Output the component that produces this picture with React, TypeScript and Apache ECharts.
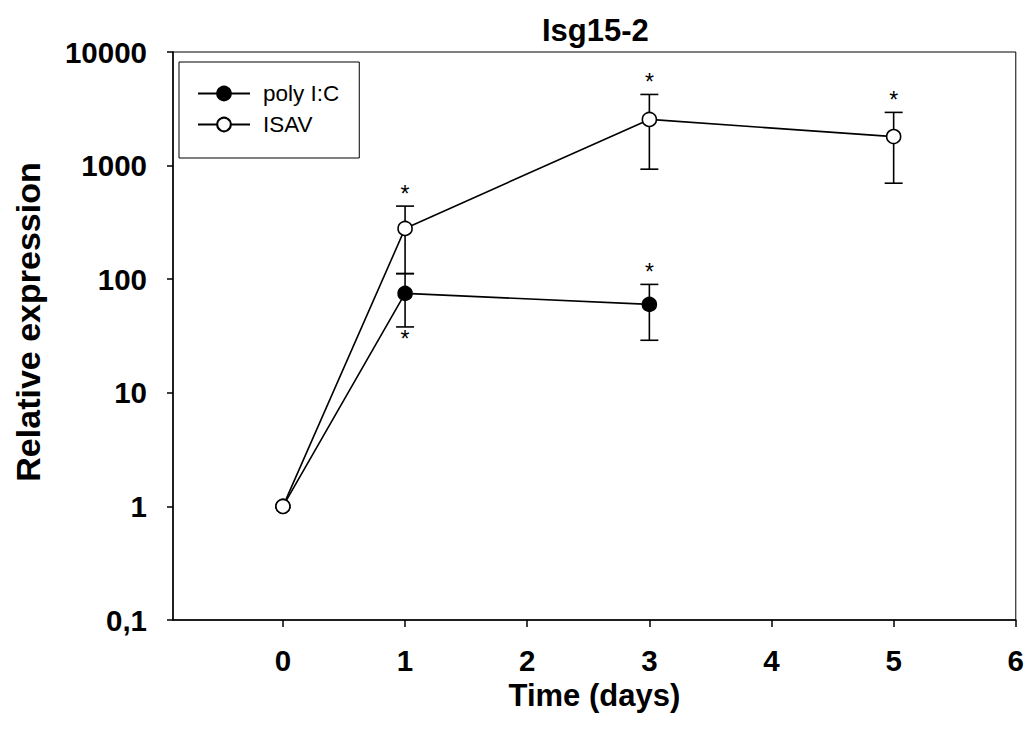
import React, { useEffect, useRef } from 'react';
import * as echarts from 'echarts';

// ---- data ----
const xTicks = [0, 1, 2, 3, 4, 5, 6];

const polyDays = [0, 1, 3];
const polyMean = [1, 75, 60];
const polyUpper: (number | null)[] = [null, 112, 90];
const polyLower: (number | null)[] = [null, 38, 29];
const polySig = ['', 'below', 'above'];

const isavDays = [0, 1, 3, 5];
const isavMean = [1, 280, 2550, 1800];
const isavUpper: (number | null)[] = [null, 440, 4230, 2940];
const isavLower: (number | null)[] = [null, 112, 930, 700];
const isavSig = ['', 'above', 'above', 'above'];

const FONT = "'Liberation Sans', Arial, sans-serif";

function errorItems(days: number[], mean: number[], lo: (number | null)[], hi: (number | null)[], sig: string[]) {
  const items: number[][] = [];
  const sigs: string[] = [];
  days.forEach((d, i) => {
    if (lo[i] != null && hi[i] != null) {
      items.push([d, mean[i], lo[i] as number, hi[i] as number]);
      sigs.push(sig[i]);
    }
  });
  return { items, sigs };
}

function errorSeries(name: string, days: number[], mean: number[], lo: (number | null)[], hi: (number | null)[], sig: string[]) {
  const { items, sigs } = errorItems(days, mean, lo, hi, sig);
  return {
    type: 'custom',
    name: name + ' err',
    z: 1,
    silent: true,
    encode: { x: 0, y: 1 },
    data: items,
    renderItem: (params: any, api: any) => {
      const x = api.value(0);
      const l = api.value(2);
      const h = api.value(3);
      const top = api.coord([x, h]);
      const bot = api.coord([x, l]);
      const cap = 9;
      const st = { stroke: '#000', lineWidth: 1.6 };
      const children: any[] = [
        { type: 'line', shape: { x1: top[0], y1: top[1], x2: bot[0], y2: bot[1] }, style: st },
        { type: 'line', shape: { x1: top[0] - cap, y1: top[1], x2: top[0] + cap, y2: top[1] }, style: st },
        { type: 'line', shape: { x1: bot[0] - cap, y1: bot[1], x2: bot[0] + cap, y2: bot[1] }, style: st },
      ];
      const s = sigs[params.dataIndex];
      if (s === 'above') {
        children.push({
          type: 'text', x: top[0], y: top[1] - 1,
          style: { text: '*', fontSize: 23, fontFamily: FONT, fill: '#000', align: 'center', verticalAlign: 'bottom' },
        });
      } else if (s === 'below') {
        children.push({
          type: 'text', x: bot[0], y: bot[1] + 1,
          style: { text: '*', fontSize: 23, fontFamily: FONT, fill: '#000', align: 'center', verticalAlign: 'top' },
        });
      }
      return { type: 'group', children };
    },
  };
}

export default function App() {
  const ref = useRef<HTMLDivElement>(null);
  useEffect(() => {
    if (!ref.current) return;
    const chart = echarts.init(ref.current, undefined, { renderer: 'svg' });
    const tickFont = { fontFamily: FONT, fontWeight: 'bold', fontSize: 29.5, color: '#000' };
    chart.setOption({
      animation: false,
      backgroundColor: '#fff',
      title: {
        text: 'Isg15-2',
        left: 537,
        top: 10,
        textStyle: { fontFamily: FONT, fontWeight: 'bold', fontSize: 31, color: '#000' },
      },
      legend: {
        data: ['poly I:C', 'ISAV'],
        orient: 'vertical',
        left: 179,
        top: 62,
        itemWidth: 52,
        itemHeight: 17,
        itemGap: 8,
        selectedMode: false,
        backgroundColor: '#fff',
        borderColor: '#000',
        borderWidth: 1,
        padding: [20, 20, 22, 18],
        textStyle: { fontFamily: FONT, fontSize: 22.5, color: '#000', padding: [0, 0, 0, 8] },
      },
      grid: {
        left: 173, right: 9, top: 52, bottom: 118,
        show: true, borderColor: '#000', borderWidth: 1, backgroundColor: 'transparent',
      },
      xAxis: {
        type: 'value',
        min: -0.9,
        max: 6,
        name: 'Time (days)',
        nameLocation: 'middle',
        nameGap: 50,
        nameTextStyle: { fontFamily: FONT, fontWeight: 'bold', fontSize: 31, color: '#000' },
        axisLine: { onZero: false, lineStyle: { color: '#000', width: 1.5 } },
        axisTick: { show: true, length: 7, inside: false, customValues: xTicks, lineStyle: { color: '#000', width: 1.5 } },
        axisLabel: { ...tickFont, margin: 25, customValues: xTicks, formatter: (v: number) => String(Math.round(v)) },
        splitLine: { show: false },
      },
      yAxis: {
        type: 'log',
        logBase: 10,
        min: 0.1,
        max: 10000,
        name: 'Relative expression',
        nameLocation: 'middle',
        nameGap: 128,
        nameRotate: 90,
        nameTextStyle: { fontFamily: FONT, fontWeight: 'bold', fontSize: 34, color: '#000', padding: [0, 0, 0, 28] },
        axisLine: { onZero: false, lineStyle: { color: '#000', width: 1.5 } },
        axisTick: { show: true, length: 6, inside: false, lineStyle: { color: '#000', width: 1.5 } },
        minorTick: { show: false },
        axisLabel: {
          ...tickFont,
          margin: 26,
          formatter: (v: number) => (v < 1 ? v.toFixed(1).replace('.', ',') : String(Math.round(v))),
        },
        splitLine: { show: false },
      },
      series: [
        errorSeries('poly I:C', polyDays, polyMean, polyLower, polyUpper, polySig),
        errorSeries('ISAV', isavDays, isavMean, isavLower, isavUpper, isavSig),
        {
          type: 'line',
          name: 'poly I:C',
          z: 3,
          data: polyDays.map((d, i) => [d, polyMean[i]]),
          symbol: 'circle',
          symbolSize: 14,
          lineStyle: { color: '#000', width: 1.6 },
          itemStyle: { color: '#000', borderColor: '#000', borderWidth: 1.5 },
        },
        {
          type: 'line',
          name: 'ISAV',
          z: 4,
          data: isavDays.map((d, i) => [d, isavMean[i]]),
          symbol: 'circle',
          symbolSize: 14,
          lineStyle: { color: '#000', width: 1.6 },
          itemStyle: { color: '#fff', borderColor: '#000', borderWidth: 1.6 },
        },
      ],
    });
    return () => chart.dispose();
  }, []);
  return (
    <div
      ref={ref}
      style={{ position: 'fixed', left: 0, top: 0, width: 1027, height: 738, background: '#fff' }}
    />
  );
}
